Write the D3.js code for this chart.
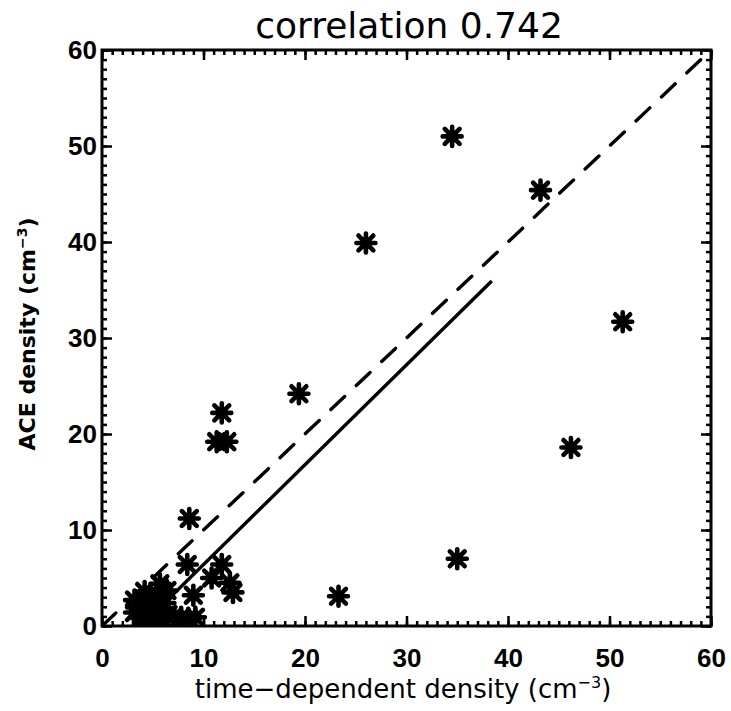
<!DOCTYPE html>
<html><head><meta charset="utf-8">
<script src="https://cdn.jsdelivr.net/npm/d3@7"></script>
<style>
body{margin:0;background:#fff;}
svg{display:block;}
</style></head>
<body>
<svg id="chart" width="731" height="711"></svg>
<script>
// ---- data ----
const titleText = "correlation 0.742";
const xTicks = [0, 10, 20, 30, 40, 50, 60];
const yTicks = [0, 10, 20, 30, 40, 50, 60];
// time-dependent density (x) and ACE density (y)
const xValues = [34.5, 43.2, 26.0, 51.3, 19.4, 11.8, 11.3, 12.3, 46.2, 8.6, 35.0, 23.3,
  8.4, 11.8, 10.8, 12.6, 12.9, 9.0,
  3.2, 3.2, 4.0, 4.2, 4.5, 4.8, 5.2, 5.4, 5.7, 5.9, 6.2, 6.4, 6.5, 5.0, 3.9, 7.0, 7.8, 8.5, 9.2];
const yValues = [51.0, 45.4, 39.9, 31.7, 24.2, 22.2, 19.2, 19.2, 18.6, 11.2, 7.0, 3.1,
  6.4, 6.4, 5.0, 4.5, 3.5, 3.2,
  2.7, 1.4, 2.2, 3.6, 0.9, 2.6, 1.6, 3.3, 4.4, 0.8, 2.4, 3.7, 1.2, 0.6, 0.8, 0.9, 0.9, 0.8, 0.9];
// fitted line end points (x) and its coefficients
const fitX = [4.0, 38.4];
const fitSlope = 1.04;
const fitIntercept = -4.0;
const identityX = [0, 60];

(function () {
// ---- layout ----
const svg = d3.select("#chart");
const pL = 102, pR = 711, pT = 50, pB = 626;
const x = d3.scaleLinear().domain([0, 60]).range([pL, pR]);
const y = d3.scaleLinear().domain([0, 60]).range([pB, pT]);
const font = "'DejaVu Sans', sans-serif";
const tickFont = "'Liberation Sans', Arial, sans-serif";

svg.append("defs").append("clipPath").attr("id", "clip")
  .append("rect").attr("x", pL).attr("y", pT).attr("width", pR - pL).attr("height", pB - pT);

// title
svg.append("text").attr("x", 409).attr("y", 38).attr("text-anchor", "middle")
  .attr("font-family", font).attr("font-size", 36).attr("fill", "#000").text(titleText);

// ticks: major and minor, on all four sides, pointing inward
const minor = d3.range(0, 61, 1);
function styleAxis(g) {
  g.select(".domain").remove();
  g.selectAll(".tick line").attr("stroke", "#000").attr("stroke-width", 2.5);
}
svg.append("g").attr("transform", `translate(0,${pB})`)
  .call(d3.axisBottom(x).tickValues(minor).tickSize(-5).tickFormat("")).call(styleAxis);
svg.append("g").attr("transform", `translate(0,${pT})`)
  .call(d3.axisTop(x).tickValues(minor).tickSize(-5).tickFormat("")).call(styleAxis);
svg.append("g").attr("transform", `translate(${pL},0)`)
  .call(d3.axisLeft(y).tickValues(minor).tickSize(-5).tickFormat("")).call(styleAxis);
svg.append("g").attr("transform", `translate(${pR},0)`)
  .call(d3.axisRight(y).tickValues(minor).tickSize(-5).tickFormat("")).call(styleAxis);

svg.append("g").attr("transform", `translate(0,${pT})`)
  .call(d3.axisTop(x).tickValues(xTicks).tickSize(-10).tickFormat("")).call(styleAxis);
svg.append("g").attr("transform", `translate(${pR},0)`)
  .call(d3.axisRight(y).tickValues(yTicks).tickSize(-10).tickFormat("")).call(styleAxis);

const xAxis = svg.append("g").attr("transform", `translate(0,${pB})`)
  .call(d3.axisBottom(x).tickValues(xTicks).tickSizeInner(-10).tickSizeOuter(0).tickPadding(23));
styleAxis(xAxis);
xAxis.selectAll(".tick text").attr("font-family", tickFont).attr("font-size", 26)
  .attr("font-weight", "bold").attr("fill", "#000");

const yAxis = svg.append("g").attr("transform", `translate(${pL},0)`)
  .call(d3.axisLeft(y).tickValues(yTicks).tickSizeInner(-10).tickSizeOuter(0).tickPadding(5));
styleAxis(yAxis);
yAxis.selectAll(".tick text").attr("font-family", tickFont).attr("font-size", 26)
  .attr("font-weight", "bold").attr("fill", "#000");

// frame
svg.append("rect").attr("x", pL).attr("y", pT).attr("width", pR - pL).attr("height", pB - pT)
  .attr("fill", "none").attr("stroke", "#000").attr("stroke-width", 3);

const plot = svg.append("g").attr("clip-path", "url(#clip)");

// identity (dashed) line
const line = d3.line().x(d => x(d[0])).y(d => y(d[1]));
plot.append("path").datum(identityX.map(v => [v, v])).attr("d", line)
  .attr("fill", "none").attr("stroke", "#000").attr("stroke-width", 3.4)
  .attr("stroke-dasharray", "19,16").attr("stroke-linecap", "round");

// fit (solid) line
plot.append("path").datum(fitX.map(v => [v, fitSlope * v + fitIntercept])).attr("d", line)
  .attr("fill", "none").attr("stroke", "#000").attr("stroke-width", 3.4);

// asterisk markers
const r = 9.5, k = r * 0.78;
const star = `M${-r},0H${r}M0,${-r}V${r}M${-k},${-k}L${k},${k}M${-k},${k}L${k},${-k}`;
const pts = xValues.map((v, i) => [v, yValues[i]]);
plot.selectAll("path.pt").data(pts).join("path").attr("class", "pt")
  .attr("transform", d => `translate(${x(d[0])},${y(d[1])})`)
  .attr("d", star).attr("fill", "none").attr("stroke", "#000")
  .attr("stroke-width", 4.6).attr("stroke-linecap", "round");

// axis titles
const xl = svg.append("text").attr("x", 403).attr("y", 698).attr("text-anchor", "middle")
  .attr("font-family", font).attr("font-size", 26).attr("fill", "#000");
xl.append("tspan").text("time\u2212dependent density (cm");
xl.append("tspan").attr("dy", -10).attr("font-size", 16).text("\u22123");
xl.append("tspan").attr("dy", 10).text(")");

const yl = svg.append("text").attr("transform", `translate(35,${(pT + pB) / 2 - 4}) rotate(-90)`)
  .attr("text-anchor", "middle").attr("font-family", font).attr("font-size", 22)
  .attr("font-weight", "bold").attr("fill", "#000");
yl.append("tspan").text("ACE density (cm");
yl.append("tspan").attr("dy", -8).attr("font-size", 14).text("\u22123");
yl.append("tspan").attr("dy", 8).text(")");
})();
</script>
</body></html>
